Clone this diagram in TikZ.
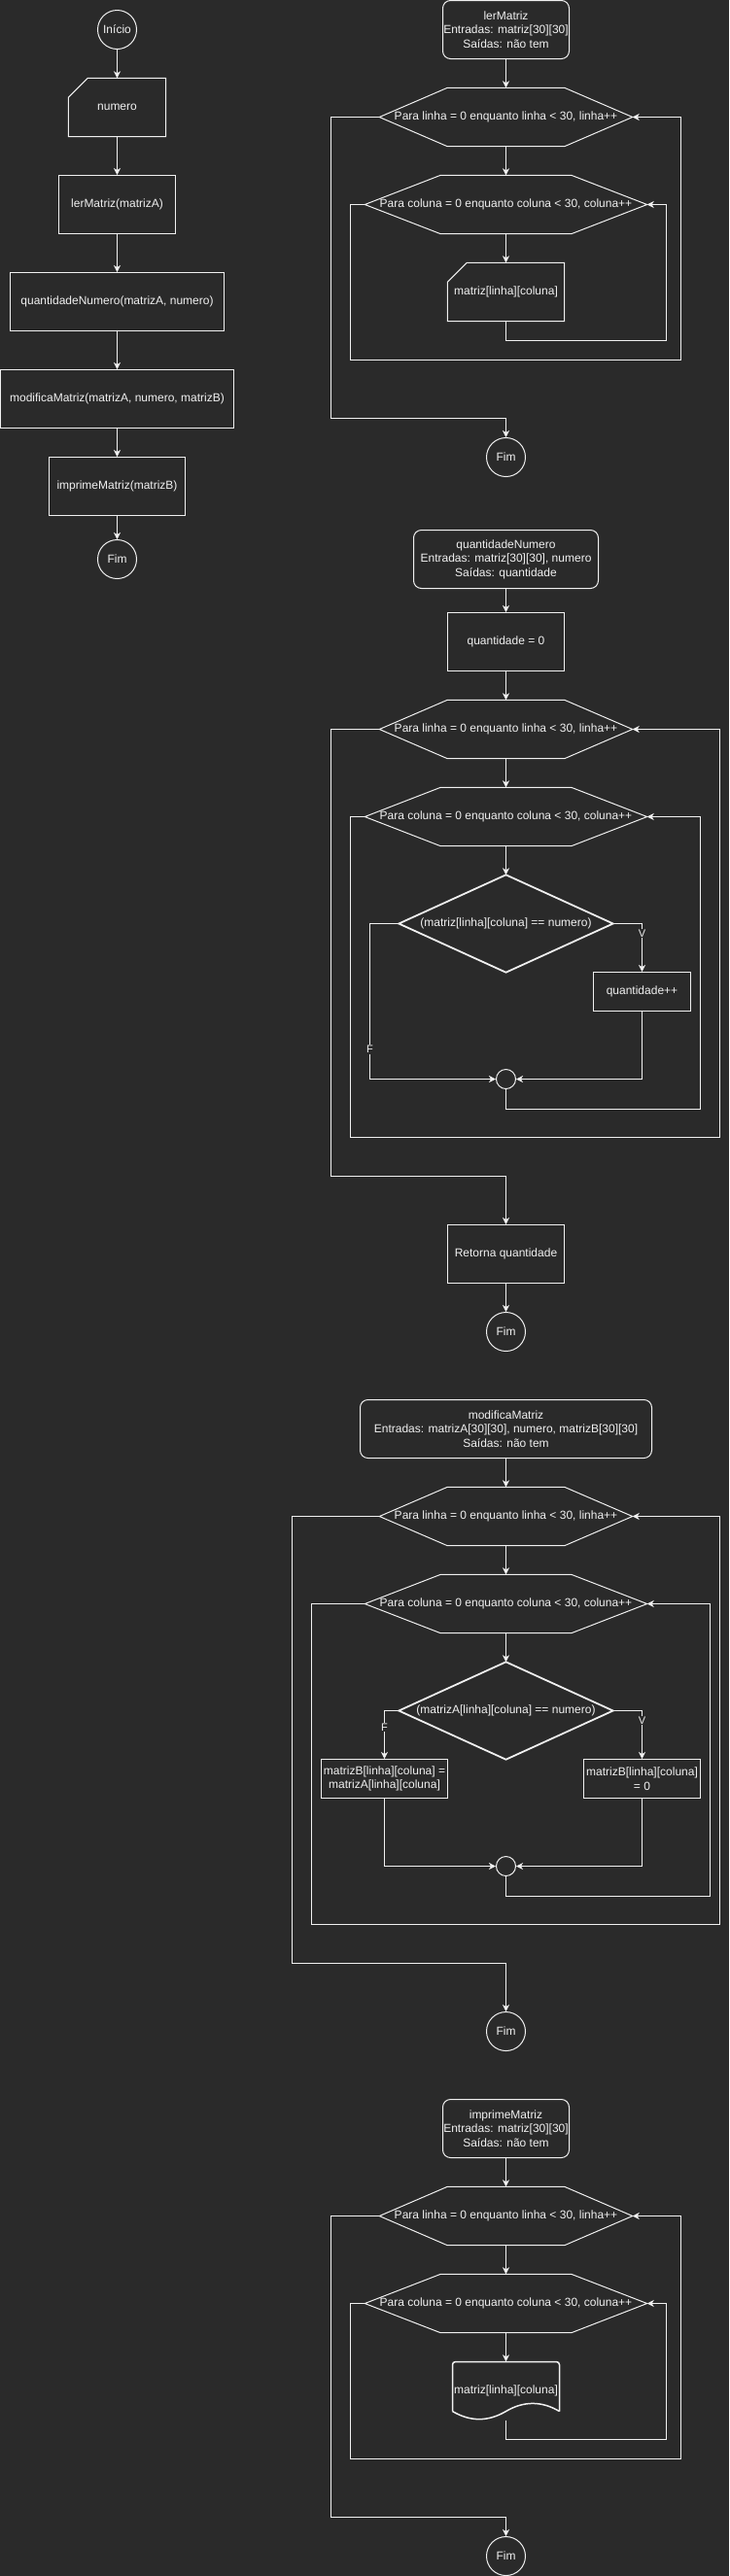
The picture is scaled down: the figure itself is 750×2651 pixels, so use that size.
\documentclass[tikz,border=0pt]{standalone}
\usepackage{fontspec}
\setmainfont{Liberation Sans}
\usetikzlibrary{arrows.meta,calc}
\definecolor{bg}{HTML}{2A2A2A}
\definecolor{fg}{HTML}{F0F0F0}
\newcommand{\hexdraw}[2]{\draw[ln] ([xshift=#2]#1.north west) -- ([xshift=-#2]#1.north east) -- (#1.east) -- ([xshift=-#2]#1.south east) -- ([xshift=#2]#1.south west) -- (#1.west) -- cycle;}
\newcommand{\carddraw}[1]{\draw[ln] ([xshift=20pt]#1.north west) -- (#1.north east) -- (#1.south east) -- (#1.south west) -- ([yshift=-20pt]#1.north west) -- cycle;}
\newcommand{\diadraw}[1]{\draw[thk] (#1.north) -- (#1.east) -- (#1.south) -- (#1.west) -- cycle;}
\begin{document}
\begin{tikzpicture}[x=1pt,y=-1pt,
  every node/.style={text=fg, font=\fontsize{12}{14.4}\selectfont, inner sep=0pt, align=center},
  ln/.style={draw=fg, line width=1pt},
  thk/.style={draw=fg, line width=1.8pt, line join=miter},
  arr/.style={draw=fg, line width=1pt, -{Stealth[length=7pt,width=7pt,inset=2pt]}},
  box/.style={rectangle, draw=fg, line width=1pt, minimum width=#1, minimum height=60pt},
  plain/.style={rectangle, minimum width=#1, minimum height=60pt},
  head/.style={rectangle, rounded corners=8pt, draw=fg, line width=1pt, minimum width=#1, minimum height=60pt},
  term/.style={circle, draw=fg, line width=1pt, minimum size=40pt},
  merge/.style={circle, draw=fg, line width=1pt, minimum size=20pt},
  dia/.style={rectangle, minimum width=220pt, minimum height=100pt},
  lbl/.style={fill=bg, font=\fontsize{11}{13}\selectfont, inner sep=1pt},
]
\fill[bg] (0,0) rectangle (750,2651);
\useasboundingbox (0,0) rectangle (750,2651);
\begin{scope}[shift={(0.5,0.5)}]
% ---------- main ----------
\node[term] (ini) at (120,30) {Início};
\node[plain=100pt] (num) at (120,110) {numero};
\carddraw{num}
\node[box=120pt] (ler) at (120,210) {lerMatriz(matrizA)};
\node[box=220pt] (qtd) at (120,310) {quantidadeNumero(matrizA, numero)};
\node[box=240pt] (mod) at (120,410) {modificaMatriz(matrizA, numero, matrizB)};
\node[box=140pt] (imp) at (120,500) {imprimeMatriz(matrizB)};
\node[term] (fim1) at (120,575) {Fim};
\draw[arr] (ini) -- (num);
\draw[arr] (num) -- (ler);
\draw[arr] (ler) -- (qtd);
\draw[arr] (qtd) -- (mod);
\draw[arr] (mod) -- (imp);
\draw[arr] (imp) -- (fim1);

% ---------- lerMatriz ----------
\node[head=130pt] (f1) at (520,30) {lerMatriz\\Entradas: matriz[30][30]\\Saídas: não tem};
\node[plain=260pt] (a1) at (520,120) {Para linha = 0 enquanto linha < 30, linha++};
\hexdraw{a1}{70pt}
\node[plain=290pt] (a2) at (520,210) {Para coluna = 0 enquanto coluna < 30, coluna++};
\hexdraw{a2}{78pt}
\node[plain=120pt] (a3) at (520,300) {matriz[linha][coluna]};
\carddraw{a3}
\node[term] (a4) at (520,470) {Fim};
\draw[arr] (f1) -- (a1);
\draw[arr] (a1) -- (a2);
\draw[arr] (a2) -- (a3);
\draw[arr] (a3.south) -- ++(0,20) -| (685,210) -- (a2.east);
\draw[arr] (a2.west) -| (360,370) -| (700,120) -- (a1.east);
\draw[arr] (a1.west) -| (340,430) -| (a4.north);

% ---------- quantidadeNumero ----------
\node[head=190pt] (q0) at (520,575) {quantidadeNumero\\Entradas: matriz[30][30], numero\\Saídas: quantidade};
\node[box=120pt] (q1) at (520,660) {quantidade = 0};
\node[plain=260pt] (q2) at (520,750) {Para linha = 0 enquanto linha < 30, linha++};
\hexdraw{q2}{70pt}
\node[plain=290pt] (q3) at (520,840) {Para coluna = 0 enquanto coluna < 30, coluna++};
\hexdraw{q3}{78pt}
\node[dia] (q4) at (520,950) {(matriz[linha][coluna] == numero)};
\diadraw{q4}
\node[box=100pt, minimum height=40pt] (q5) at (660,1020) {quantidade++};
\node[merge] (q6) at (520,1110) {};
\node[box=120pt] (q7) at (520,1290) {Retorna quantidade};
\node[term] (q8) at (520,1370) {Fim};
\draw[arr] (q0) -- (q1);
\draw[arr] (q1) -- (q2);
\draw[arr] (q2) -- (q3);
\draw[arr] (q3) -- (q4);
\draw[arr] (q4.east) -| node[lbl, pos=0.6] {V} (q5.north);
\draw[arr] (q5.south) |- (q6.east);
\draw[arr] (q4.west) -- (380,950) -- node[lbl, pos=0.81] {F} (380,1110) -- (q6.west);
\draw[arr] (q6.south) -- ++(0,20) -| (720,840) -- (q3.east);
\draw[arr] (q3.west) -| (360,1170) -| (740,750) -- (q2.east);
\draw[arr] (q2.west) -| (340,1210) -| (q7.north);
\draw[arr] (q7) -- (q8);

% ---------- modificaMatriz ----------
\node[head=300pt] (m0) at (520,1470) {modificaMatriz\\Entradas: matrizA[30][30], numero, matrizB[30][30]\\Saídas: não tem};
\node[plain=260pt] (m1) at (520,1560) {Para linha = 0 enquanto linha < 30, linha++};
\hexdraw{m1}{70pt}
\node[plain=290pt] (m2) at (520,1650) {Para coluna = 0 enquanto coluna < 30, coluna++};
\hexdraw{m2}{78pt}
\node[dia] (m3) at (520,1760) {(matrizA[linha][coluna] == numero)};
\diadraw{m3}
\node[box=130pt, minimum height=40pt] (m4) at (395,1830) {matrizB[linha][coluna] =\\matrizA[linha][coluna]};
\node[box=120pt, minimum height=40pt] (m5) at (660,1830) {matrizB[linha][coluna]\\= 0};
\node[merge] (m6) at (520,1920) {};
\node[term] (m7) at (520,2090) {Fim};
\draw[arr] (m0) -- (m1);
\draw[arr] (m1) -- (m2);
\draw[arr] (m2) -- (m3);
\draw[arr] (m3.west) -| node[lbl, pos=0.67] {F} (m4.north);
\draw[arr] (m3.east) -| node[lbl, pos=0.6] {V} (m5.north);
\draw[arr] (m4.south) |- (m6.west);
\draw[arr] (m5.south) |- (m6.east);
\draw[arr] (m6.south) -- ++(0,20) -| (730,1650) -- (m2.east);
\draw[arr] (m2.west) -| (320,1980) -| (740,1560) -- (m1.east);
\draw[arr] (m1.west) -| (300,2020) -| (m7.north);

% ---------- imprimeMatriz ----------
\node[head=130pt] (p0) at (520,2190) {imprimeMatriz\\Entradas: matriz[30][30]\\Saídas: não tem};
\node[plain=260pt] (p1) at (520,2280) {Para linha = 0 enquanto linha < 30, linha++};
\hexdraw{p1}{70pt}
\node[plain=290pt] (p2) at (520,2370) {Para coluna = 0 enquanto coluna < 30, coluna++};
\hexdraw{p2}{78pt}
\node[plain=110pt] (p3) at (520,2460) {matriz[linha][coluna]};
\draw[draw=fg, line width=1.5pt, rounded corners=3pt] (465,2481) -- (465,2430) -- (575,2430) -- (575,2481);
\draw[draw=fg, line width=1.5pt] (575,2481) .. controls (556.67,2470.2) and (538.33,2470.2) .. (520,2481)
   .. controls (501.67,2491.8) and (483.33,2491.8) .. (465,2481);
\node[term] (p4) at (520,2630) {Fim};
\draw[arr] (p0) -- (p1);
\draw[arr] (p1) -- (p2);
\draw[arr] (p2) -- (p3);
\draw[arr] (p3.south) -- ++(0,20) -| (685,2370) -- (p2.east);
\draw[arr] (p2.west) -| (360,2530) -| (700,2280) -- (p1.east);
\draw[arr] (p1.west) -| (340,2590) -| (p4.north);
\end{scope}
\end{tikzpicture}
\end{document}
